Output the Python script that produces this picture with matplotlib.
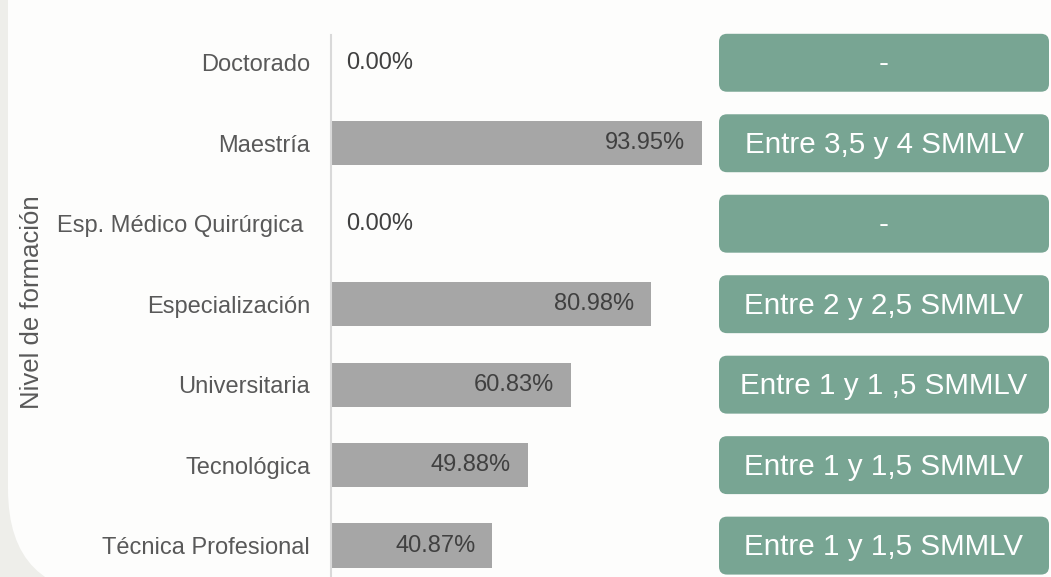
import matplotlib
matplotlib.use("Agg")
import matplotlib.pyplot as plt
from matplotlib.patches import FancyBboxPatch

# ---- data ----
categories = ["Doctorado", "Maestría", "Esp. Médico Quirúrgica ", "Especialización",
              "Universitaria", "Tecnológica", "Técnica Profesional"]
percentages = [0.00, 93.95, 0.00, 80.98, 60.83, 49.88, 40.87]
salary_ranges = ["-", "Entre 3,5 y 4 SMMLV", "-", "Entre 2 y 2,5 SMMLV",
                 "Entre 1 y 1 ,5 SMMLV", "Entre 1 y 1,5 SMMLV", "Entre 1 y 1,5 SMMLV"]
y_label = "Nivel de formación"

# ---- style ----
plt.rcParams['font.family'] = ['Liberation Sans', 'DejaVu Sans']
W, H, DPI = 1051, 577, 100
BAR = "#a6a6a6"
GREEN = "#78a593"
TICK = "#595959"
VAL = "#404040"

fig = plt.figure(figsize=(W / DPI, H / DPI), dpi=DPI)
fig.patch.set_facecolor("#eeeeea")

# white rounded panel (slide background)
panel = FancyBboxPatch((8 / W, -0.03), 1.2, 1.3,
                       boxstyle="round,pad=0,rounding_size=0.1",
                       mutation_aspect=W / H,
                       transform=fig.transFigure, facecolor="#fdfdfc",
                       edgecolor="none", zorder=-10)
fig.patches.append(panel)

ax_left, ax_right = 331, 1049
ax_top, ax_bot = 35, 577
ax = fig.add_axes([ax_left / W, 1 - ax_bot / H, (ax_right - ax_left) / W, (ax_bot - ax_top) / H])
ax.set_facecolor("none")
ax.set_zorder(1)

px_per_unit_x = 3.949
xmax = (ax_right - ax_left) / px_per_unit_x
ax.set_xlim(0, xmax)
ax.set_ylim(6.39, -0.345)

ypos = list(range(len(categories)))
ax.barh(ypos, percentages, height=0.55, color=BAR, zorder=2)

for y, v in zip(ypos, percentages):
    label = f"{v:.2f}%"
    if v > 0:
        ax.annotate(label, (v, y), xytext=(-17, 0), textcoords="offset pixels",
                    ha="right", va="center", fontsize=17, color=VAL, zorder=3)
    else:
        ax.annotate(label, (v, y), xytext=(15, 0), textcoords="offset pixels",
                    ha="left", va="center", fontsize=17, color=VAL, zorder=3)

# green salary boxes
box_x0 = (719 - ax_left) / px_per_unit_x
box_x1 = (1049 - ax_left) / px_per_unit_x
box_h = 0.72
r_px = 8
r_x = r_px / px_per_unit_x
row_px = (545 - 62) / 6
aspect = (r_px / row_px) / r_x
for y, s in zip(ypos, salary_ranges):
    p = FancyBboxPatch((box_x0, y - box_h / 2), box_x1 - box_x0, box_h,
                       boxstyle=f"round,pad=0,rounding_size={r_x}",
                       mutation_aspect=aspect, facecolor=GREEN,
                       edgecolor="none", zorder=2, clip_on=False)
    ax.add_patch(p)
    ax.text((box_x0 + box_x1) / 2, y + 0.02, s, ha="center", va="center",
            fontsize=21.3, color="white", zorder=3)

ax.set_yticks(ypos)
ax.set_yticklabels(categories, fontsize=17, color=TICK)
ax.tick_params(axis="y", length=0, pad=15)
ax.set_xticks([])
for side in ["top", "right", "bottom"]:
    ax.spines[side].set_visible(False)
ax.spines["left"].set_color("#d9d9d9")
ax.spines["left"].set_linewidth(1.5)

fig.text(32 / W, 1 - 302 / H, y_label, rotation=90, ha="center", va="center",
         fontsize=18.5, color=TICK, zorder=2)

fig.savefig("out.png", dpi=DPI, facecolor=fig.get_facecolor())
